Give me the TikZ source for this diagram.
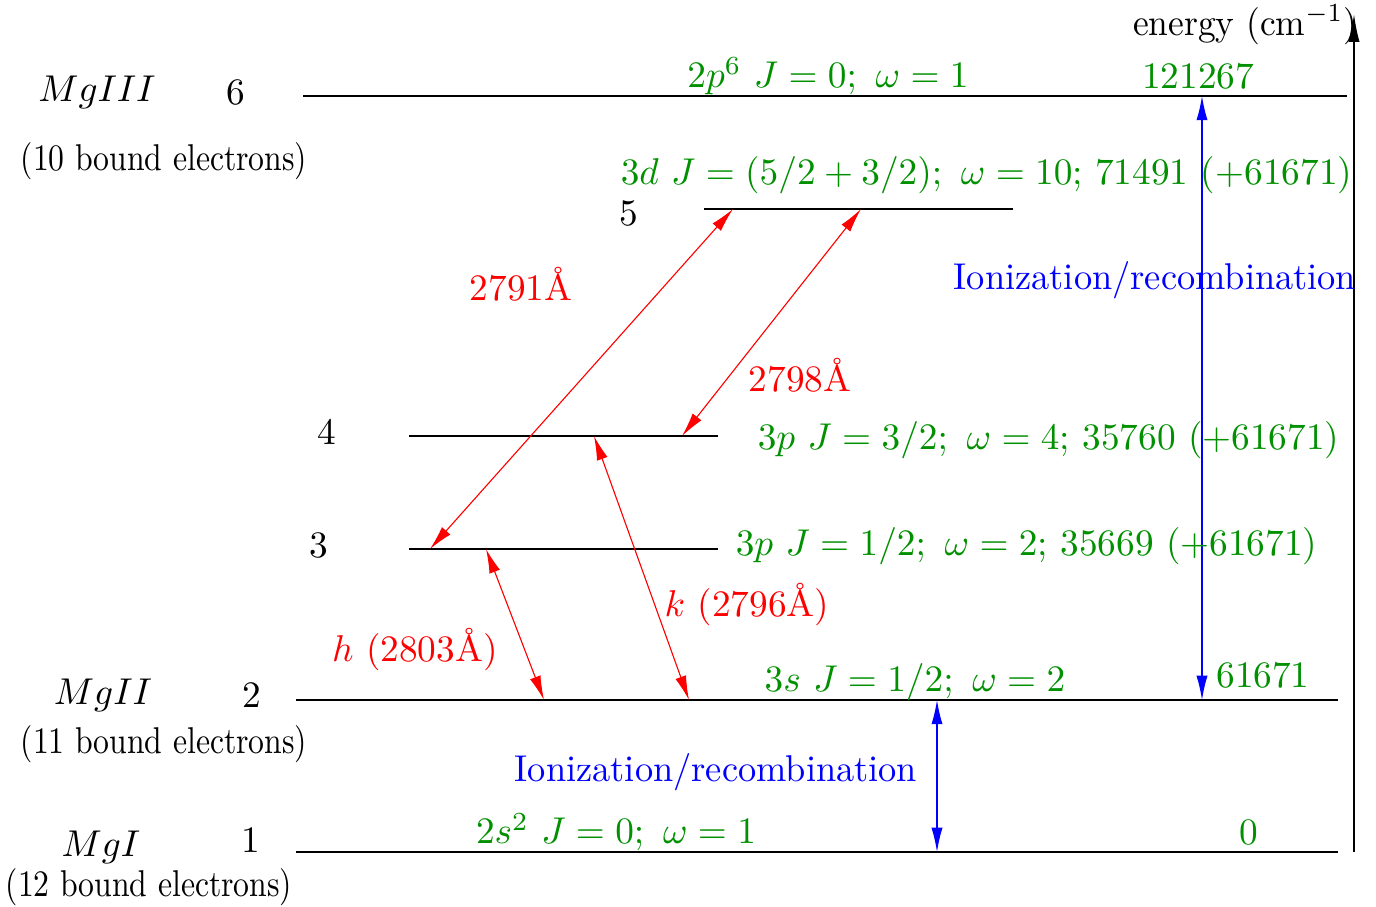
\documentclass[tikz,border=0pt]{standalone}
\usepackage{graphicx}
\usetikzlibrary{arrows.meta}
\definecolor{lvlgreen}{RGB}{0,144,0}
\newcommand{\narrow}[2]{\scalebox{#1}[1]{#2}}
\begin{document}
\begin{tikzpicture}[x=0.268pt,y=-0.268pt,
  lvl/.style={draw=black,line width=0.45pt},
  trans/.style={draw=red,line width=0.3pt,{Latex[length=6.5pt,width=3pt]}-{Latex[length=6.5pt,width=3pt]}},
  ion/.style={draw=blue,line width=0.35pt,{Latex[length=6.5pt,width=3pt]}-{Latex[length=6.5pt,width=3pt]}},
  gtxt/.style={text=lvlgreen,inner sep=0pt},
  rtxt/.style={text=red,inner sep=0pt},
  btxt/.style={text=blue,inner sep=0pt},
  ktxt/.style={text=black,inner sep=0pt}]
\useasboundingbox (0,0) rectangle (1376,907);

% level end points
\coordinate (L6a) at (303,96);  \coordinate (L6b) at (1347,96);
\coordinate (L5a) at (704,209); \coordinate (L5b) at (1013,209);
\coordinate (L4a) at (409,436); \coordinate (L4b) at (718,436);
\coordinate (L3a) at (409,549); \coordinate (L3b) at (718,549);
\coordinate (L2a) at (296,700); \coordinate (L2b) at (1338,700);
\coordinate (L1a) at (296,852); \coordinate (L1b) at (1338,852);
\draw[lvl] (L6a) -- (L6b);
\draw[lvl] (L5a) -- (L5b);
\draw[lvl] (L4a) -- (L4b);
\draw[lvl] (L3a) -- (L3b);
\draw[lvl] (L2a) -- (L2b);
\draw[lvl] (L1a) -- (L1b);

% energy axis
\coordinate (Ea) at (1354,852); \coordinate (Eb) at (1354,14);
\draw[line width=0.45pt,-{Latex[length=7.5pt,width=3pt]}] (Ea) -- (Eb);
\node[ktxt,anchor=east] (energy) at (1358,25) {\narrow{0.95}{energy (cm$^{-1}$)}};

% ionization arrows
\coordinate (I1t) at (1202,96);  \coordinate (I1b) at (1202,700);
\coordinate (I2t) at (937,700);  \coordinate (I2b) at (937,852);
\draw[ion] (I1t) -- (I1b);
\draw[ion] (I2t) -- (I2b);

% transitions
\coordinate (T1a) at (733,209); \coordinate (T1b) at (430,549);
\coordinate (T2a) at (861,209); \coordinate (T2b) at (682,436);
\coordinate (T3a) at (594,436); \coordinate (T3b) at (689,700);
\coordinate (T4a) at (486,549); \coordinate (T4b) at (544,700);
\draw[trans] (T1a) -- (T1b);
\draw[trans] (T2a) -- (T2b);
\draw[trans] (T3a) -- (T3b);
\draw[trans] (T4a) -- (T4b);

% left labels
\node[ktxt] (mg3) at (97,92) {$MgIII$};
\node[ktxt] (n6) at (236,92) {6};
\node[ktxt] (b10) at (164,161) {\narrow{0.85}{(10 bound electrons)}};
\node[ktxt] (mg2) at (103,695) {$MgII$};
\node[ktxt] (n2) at (252,695) {2};
\node[ktxt] (b11) at (164,744) {\narrow{0.85}{(11 bound electrons)}};
\node[ktxt] (mg1) at (101,847) {$MgI$};
\node[ktxt] (n1) at (251,840) {1};
\node[ktxt] (b12) at (149,887) {\narrow{0.85}{(12 bound electrons)}};
\node[ktxt] (n5) at (629,213) {5};
\node[ktxt] (n4) at (327,432) {4};
\node[ktxt] (n3) at (319,545) {3};

% green level labels
\node[gtxt] (g6) at (828,76) {$2p^6\ J=0;\ \omega=1$};
\node[gtxt] (e6) at (1198,76) {121267};
\node[gtxt,anchor=west] (g5) at (620,175) {$3d\ J=(5/2+3/2);\ \omega=10$; 71491 (+61671)};
\node[gtxt,anchor=west] (g4) at (757,440) {$3p\ J=3/2;\ \omega=4$; 35760 (+61671)};
\node[gtxt,anchor=west] (g3) at (735,546) {$3p\ J=1/2;\ \omega=2$; 35669 (+61671)};
\node[gtxt] (g2) at (915,682) {$3s\ J=1/2;\ \omega=2$};
\node[gtxt] (e2) at (1263,675) {61671};
\node[gtxt] (g1) at (616,832) {$2s^2\ J=0;\ \omega=1$};
\node[gtxt] (e1) at (1249,832) {0};

% red transition labels
\node[rtxt] (w1) at (521,284) {2791\AA};
\node[rtxt] (w2) at (800,375) {2798\AA};
\node[rtxt] (wk) at (747,605) {$k$ (2796\AA)};
\node[rtxt] (wh) at (415,650) {$h$ (2803\AA)};

% blue labels
\node[btxt] (ir1) at (1155,280) {\narrow{0.975}{Ionization/recombination}};
\node[btxt] (ir2) at (716,772) {\narrow{0.975}{Ionization/recombination}};
\end{tikzpicture}
\end{document}
